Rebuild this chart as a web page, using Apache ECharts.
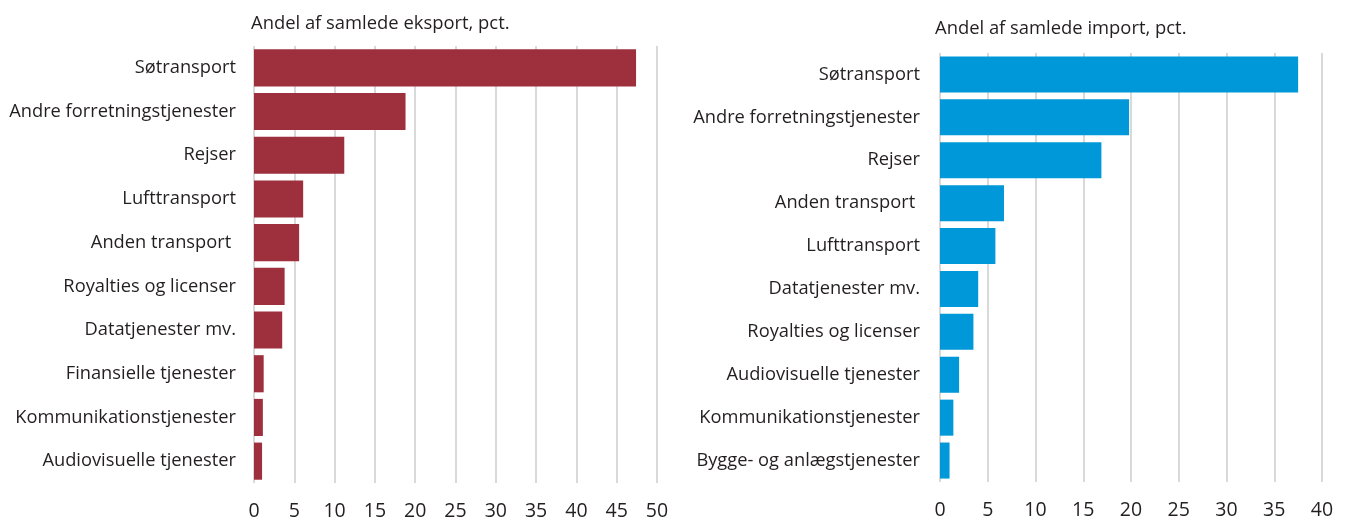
<!DOCTYPE html>
<html>
<head>
<meta charset="utf-8">
<script src="https://cdn.jsdelivr.net/npm/echarts@6/dist/echarts.min.js"></script>
<style>
  html, body { margin: 0; padding: 0; background: #fff; }
  #main { width: 1345px; height: 521px; }
</style>
</head>
<body>
<div id="main"></div>
<script>
// eksport (venstre)
var eksportKategorier = ['Søtransport', 'Andre forretningstjenester', 'Rejser', 'Lufttransport', 'Anden transport ',
    'Royalties og licenser', 'Datatjenester mv.', 'Finansielle tjenester', 'Kommunikationstjenester', 'Audiovisuelle tjenester'];
var eksportVaerdier = [47.4, 18.8, 11.2, 6.1, 5.6, 3.8, 3.5, 1.2, 1.1, 1.0];

// import (højre)
var importKategorier = ['Søtransport', 'Andre forretningstjenester', 'Rejser', 'Anden transport ', 'Lufttransport',
    'Datatjenester mv.', 'Royalties og licenser', 'Audiovisuelle tjenester', 'Kommunikationstjenester', 'Bygge- og anlægstjenester'];
var importVaerdier = [37.5, 19.8, 16.9, 6.7, 5.8, 4.0, 3.5, 2.0, 1.4, 1.0];

var fontFam = 'Open Sans';
var tekstFarve = '#231f20';
var gitterFarve = '#d9d9d9';

function vaerdiAkse(idx, max) {
    return {
        type: 'value', gridIndex: idx, min: 0, max: max, interval: 5,
        axisLine: {show: false},
        axisTick: {show: false},
        axisLabel: {color: tekstFarve, fontSize: 19.5, fontFamily: fontFam, margin: 18},
        splitLine: {show: true, lineStyle: {color: gitterFarve, width: 2}}
    };
}

function kategoriAkse(idx, data, margin) {
    return {
        type: 'category', gridIndex: idx, data: data, inverse: true,
        axisLine: {show: false},
        axisTick: {show: false},
        axisLabel: {color: tekstFarve, fontSize: 18.3, fontFamily: fontFam, margin: margin}
    };
}

var option = {
    backgroundColor: '#fff',
    animation: false,
    title: [
        {text: 'Andel af samlede eksport, pct.', left: 246, top: 10,
            textStyle: {color: tekstFarve, fontSize: 18.4, fontWeight: 'normal', fontFamily: fontFam}},
        {text: 'Andel af samlede import, pct.', left: 930, top: 15,
            textStyle: {color: tekstFarve, fontSize: 18.4, fontWeight: 'normal', fontFamily: fontFam}}
    ],
    grid: [
        {left: 254, right: 688, top: 46, bottom: 36},
        {left: 940, right: 23, top: 53, bottom: 39}
    ],
    xAxis: [vaerdiAkse(0, 50), vaerdiAkse(1, 40)],
    yAxis: [kategoriAkse(0, eksportKategorier, 18), kategoriAkse(1, importKategorier, 20)],
    series: [
        {
            name: 'Eksport', type: 'bar', xAxisIndex: 0, yAxisIndex: 0,
            data: eksportVaerdier, barCategoryGap: '15%',
            itemStyle: {color: '#9e2f3c'}
        },
        {
            name: 'Import', type: 'bar', xAxisIndex: 1, yAxisIndex: 1,
            data: importVaerdier, barCategoryGap: '16%',
            itemStyle: {color: '#0098d8'}
        }
    ]
};

var myChart = echarts.init(document.getElementById('main'));
myChart.setOption(option);
</script>
</body>
</html>
